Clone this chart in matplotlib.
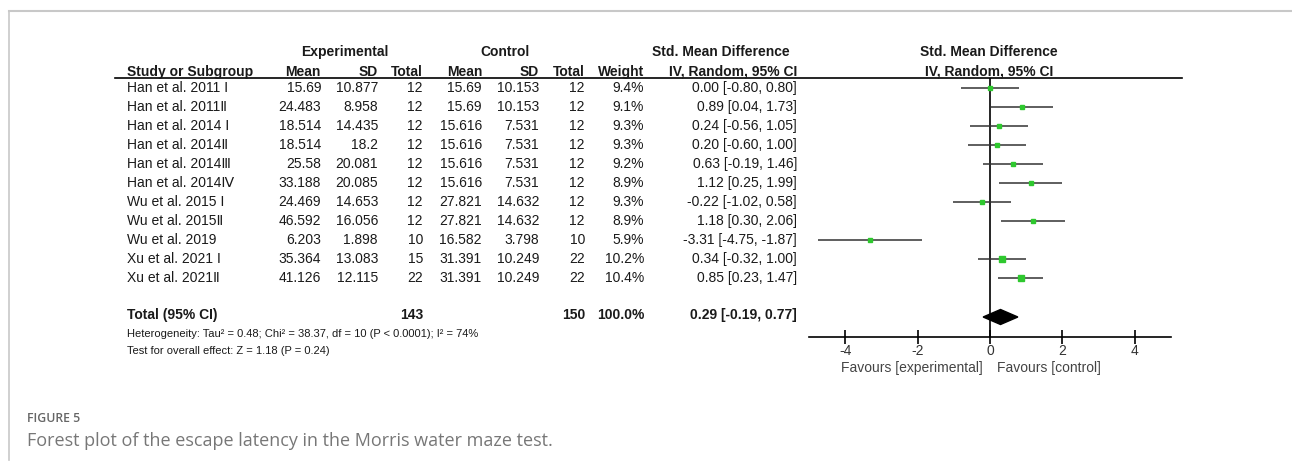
import numpy as np
import matplotlib
matplotlib.use("Agg")
import matplotlib.pyplot as plt
from matplotlib.patches import Polygon

plt.rcParams['font.family'] = ['Liberation Sans', 'DejaVu Sans']

# ---- data ----
studies = ["Han et al. 2011 Ⅰ", "Han et al. 2011Ⅱ", "Han et al. 2014 Ⅰ", "Han et al. 2014Ⅱ",
           "Han et al. 2014Ⅲ", "Han et al. 2014Ⅳ", "Wu et al. 2015 Ⅰ", "Wu et al. 2015Ⅱ",
           "Wu et al. 2019", "Xu et al. 2021 Ⅰ", "Xu et al. 2021Ⅱ"]
exp_mean = ["15.69", "24.483", "18.514", "18.514", "25.58", "33.188", "24.469", "46.592", "6.203", "35.364", "41.126"]
exp_sd = ["10.877", "8.958", "14.435", "18.2", "20.081", "20.085", "14.653", "16.056", "1.898", "13.083", "12.115"]
exp_n = [12, 12, 12, 12, 12, 12, 12, 12, 10, 15, 22]
ctl_mean = ["15.69", "15.69", "15.616", "15.616", "15.616", "15.616", "27.821", "27.821", "16.582", "31.391", "31.391"]
ctl_sd = ["10.153", "10.153", "7.531", "7.531", "7.531", "7.531", "14.632", "14.632", "3.798", "10.249", "10.249"]
ctl_n = [12, 12, 12, 12, 12, 12, 12, 12, 10, 22, 22]
weight = [9.4, 9.1, 9.3, 9.3, 9.2, 8.9, 9.3, 8.9, 5.9, 10.2, 10.4]
smd = [0.00, 0.89, 0.24, 0.20, 0.63, 1.12, -0.22, 1.18, -3.31, 0.34, 0.85]
lo = [-0.80, 0.04, -0.56, -0.60, -0.19, 0.25, -1.02, 0.30, -4.75, -0.32, 0.23]
hi = [0.80, 1.73, 1.05, 1.00, 1.46, 1.99, 0.58, 2.06, -1.87, 1.00, 1.47]
total_exp, total_ctl, total_w = 143, 150, "100.0%"
pooled, pooled_lo, pooled_hi = 0.29, -0.19, 0.77
ticks = [-4, -2, 0, 2, 4]

W, H = 1292, 467
fig = plt.figure(figsize=(W / 100, H / 100), dpi=100)
ax = fig.add_axes([0, 0, 1, 1])
ax.set_xlim(0, W)
ax.set_ylim(H, 0)
ax.axis('off')

# frame of the figure box
ax.plot([9, W], [11, 11], color='#c8c8c8', lw=1.5)
ax.plot([9, 9], [11, 460], color='#c8c8c8', lw=1.2)

fs = 10
tc = '#1a1a1a'
row_y = 88 + 19 * np.arange(len(studies))

# headers
for x, lab in [(345, "Experimental"), (505, "Control"), (721, "Std. Mean Difference"),
               (989, "Std. Mean Difference")]:
    ax.text(x, 52, lab, ha='center', va='center', fontsize=fs, weight='bold', color=tc)
ax.text(989, 72, "IV, Random, 95% CI", ha='center', va='center', fontsize=fs, weight='bold', color=tc)
ax.text(127, 72, "Study or Subgroup", ha='left', va='center', fontsize=fs, weight='bold', color=tc)
cols = [(321, "Mean"), (378, "SD"), (423, "Total"), (482, "Mean"), (539, "SD"),
        (585, "Total"), (644, "Weight"), (797, "IV, Random, 95% CI")]
for x, lab in cols:
    ax.text(x, 72, lab, ha='right', va='center', fontsize=fs, weight='bold', color=tc)
ax.plot([115, 1182], [78, 78], color='black', lw=1.2)

# rows
for i, y in enumerate(row_y):
    ax.text(127, y, studies[i], ha='left', va='center', fontsize=fs, color=tc)
    vals = [exp_mean[i], exp_sd[i], str(exp_n[i]), ctl_mean[i], ctl_sd[i], str(ctl_n[i]),
            f"{weight[i]:.1f}%", f"{smd[i]:.2f} [{lo[i]:.2f}, {hi[i]:.2f}]"]
    for (x, _), v in zip(cols, vals):
        ax.text(x, y, v, ha='right', va='center', fontsize=fs, color=tc)

ty = 315
ax.text(127, ty, "Total (95% CI)", ha='left', va='center', fontsize=fs, weight='bold', color=tc)
ax.text(423, ty, str(total_exp), ha='right', va='center', fontsize=fs, weight='bold', color=tc)
ax.text(585, ty, str(total_ctl), ha='right', va='center', fontsize=fs, weight='bold', color=tc)
ax.text(644, ty, total_w, ha='right', va='center', fontsize=fs, weight='bold', color=tc)
ax.text(797, ty, f"{pooled:.2f} [{pooled_lo:.2f}, {pooled_hi:.2f}]", ha='right', va='center',
        fontsize=fs, weight='bold', color=tc)
# these two lines are narrower in the original
ax.text(127, 334, "Heterogeneity: Tau² = 0.48; Chi² = 38.37, df = 10 (P < 0.0001); I² = 74%",
        ha='left', va='center', fontsize=8, color=tc)
ax.text(127, 351, "Test for overall effect: Z = 1.18 (P = 0.24)",
        ha='left', va='center', fontsize=8, color=tc)

# caption
ax.text(27, 419, "FIGURE 5", ha='left', va='center', fontsize=8.8, color='#666666',
        family='Open Sans', weight='semibold')
ax.text(27, 441, "Forest plot of the escape latency in the Morris water maze test.",
        ha='left', va='center', fontsize=13, color='#777777', family='Open Sans')

# forest panel: pixel rows on y, effect size on x
x0, x1, ytop, ybot = 809, 1171, 78, 337
fx = fig.add_axes([x0 / W, 1 - ybot / H, (x1 - x0) / W, (ybot - ytop) / H])
fx.patch.set_alpha(0)
fx.set_xlim(-5, 5)
fx.set_ylim(ybot, ytop)
for s in ['top', 'left', 'right']:
    fx.spines[s].set_visible(False)
fx.spines['bottom'].set_linewidth(1.2)
fx.set_yticks([])
fx.set_xticks(ticks)
fx.set_xticklabels([str(t) for t in ticks])
fx.tick_params(axis='x', direction='inout', length=10, width=1.2, labelsize=10,
               labelcolor='#333333', pad=0)
fx.axvline(0, color='black', lw=1.2)

fx.hlines(row_y, lo, hi, color='#333333', lw=1.1)
ms = 1.15 * np.sqrt(weight)
for i, y in enumerate(row_y):
    fx.plot(smd[i], y, marker='s', ms=ms[i], color='#2ec82e', mec='#2ec82e', ls='none')

dy = 7.5
fx.add_patch(Polygon([[pooled_lo, ty + 2], [pooled, ty + 2 - dy], [pooled_hi, ty + 2], [pooled, ty + 2 + dy]],
                     closed=True, color='black'))

ax.text(983, 368, "Favours [experimental]", ha='right', va='center', fontsize=10, color='#444444')
ax.text(997, 368, "Favours [control]", ha='left', va='center', fontsize=10, color='#444444')

fig.savefig("out.png", dpi=100)
